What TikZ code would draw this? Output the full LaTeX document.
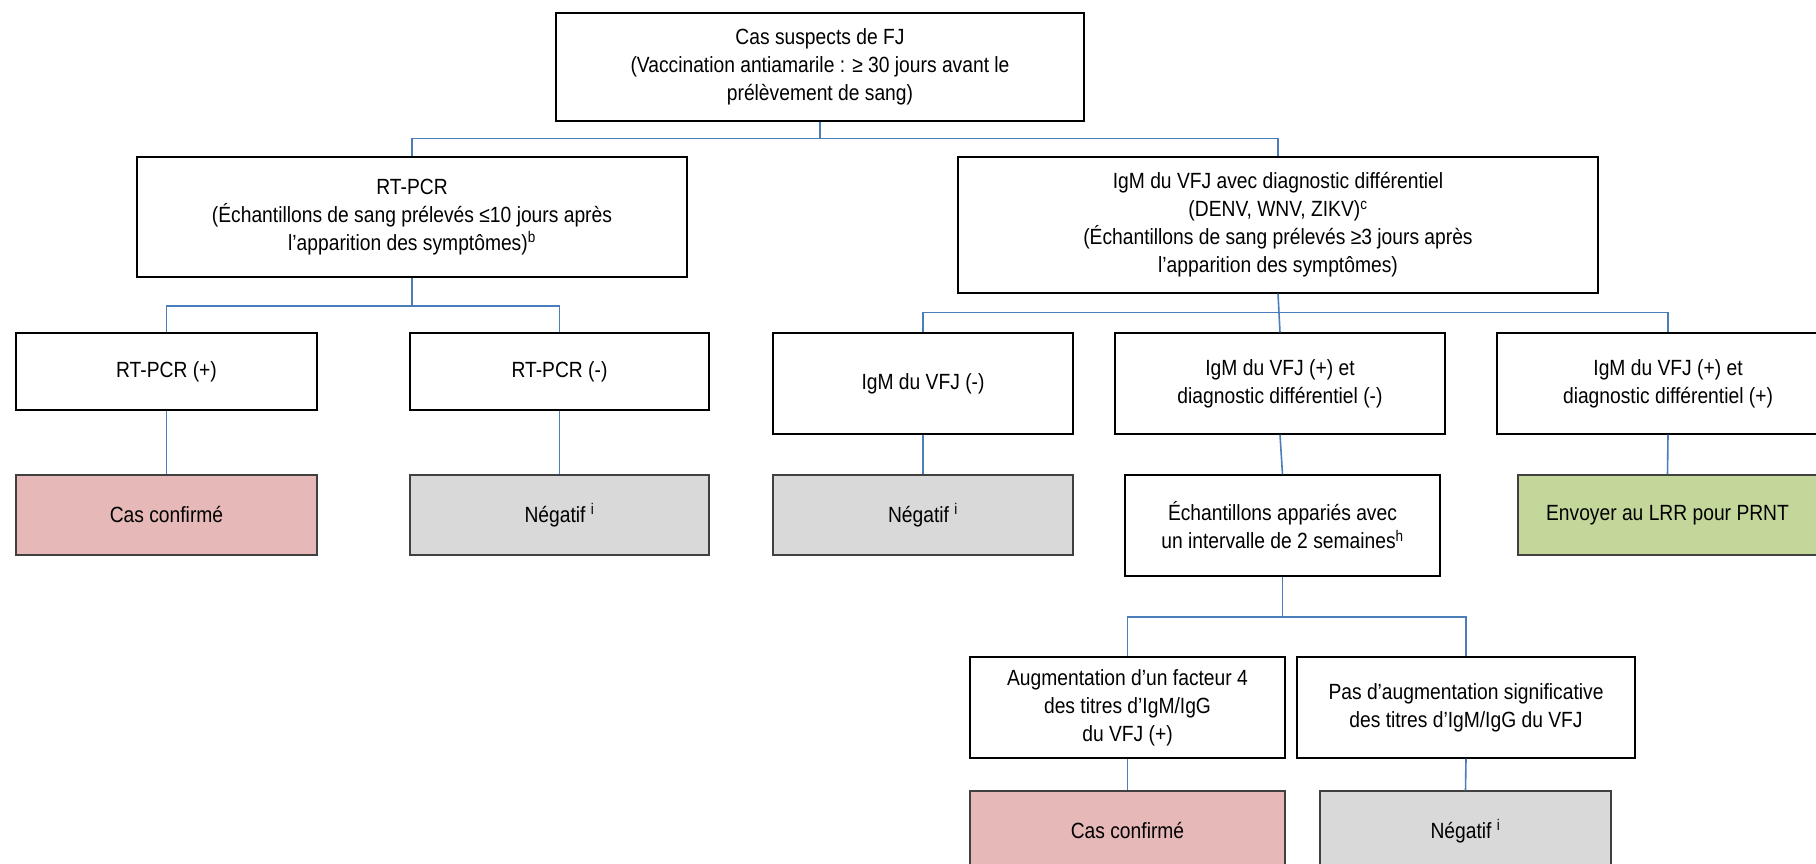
\documentclass[tikz,border=0pt]{standalone}
\usepackage{fontspec}
\setmainfont{Liberation Sans}[FakeStretch=0.875]
\definecolor{connblue}{HTML}{4A7EBB}
\definecolor{pinkfill}{HTML}{E6B8B7}
\definecolor{grayfill}{HTML}{D9D9D9}
\definecolor{greenfill}{HTML}{C4D79B}
\tikzset{
  box/.style={draw=black, line width=1.4pt, fill=white, rectangle, inner sep=0pt, align=center,
    font=\fontsize{22}{28}\selectfont},
  pinkbox/.style={box, draw=black!75, fill=pinkfill},
  graybox/.style={box, draw=black!75, fill=grayfill},
  greenbox/.style={box, draw=black!75, fill=greenfill},
  conn/.style={draw=connblue, line width=1.6pt},
}
\begin{document}
\begin{tikzpicture}[x=1pt,y=-1pt]
\useasboundingbox (0,0) rectangle (1816,864);
\clip (0,0) rectangle (1816,864);
\fill[white] (0,0) rectangle (1816,864);

\node[box, minimum width=528, minimum height=108] (top) at (820,67)
  {Cas suspects de FJ\\(Vaccination antiamarile : ≥ 30 jours avant le\\prélèvement de sang)};
\node[box, minimum width=550, minimum height=120] (rt) at (412,217)
  {RT-PCR\\(Échantillons de sang prélevés ≤10 jours après\\l’apparition des symptômes)\textsuperscript{b}};
\node[box, minimum width=640, minimum height=136] (igm) at (1278,225)
  {IgM du VFJ avec diagnostic différentiel\\(DENV, WNV, ZIKV)\textsuperscript{c}\\(Échantillons de sang prélevés ≥3 jours après\\l’apparition des symptômes)};

\node[box, minimum width=301, minimum height=77] (rtp) at (166.5,371.5) {RT-PCR (+)};
\node[box, minimum width=299, minimum height=77] (rtn) at (559.5,371.5) {RT-PCR (-)};
\node[box, minimum width=300, minimum height=101] (igmn) at (923,383.5) {IgM du VFJ (-)};
\node[box, minimum width=330, minimum height=101] (igmpn) at (1280,383.5) {IgM du VFJ (+) et\\diagnostic différentiel (-)};
\node[box, minimum width=342, minimum height=101] (igmpp) at (1668,383.5) {IgM du VFJ (+) et\\diagnostic différentiel (+)};

\node[pinkbox, minimum width=301, minimum height=80] (cc1) at (166.5,515) {Cas confirmé};
\node[graybox, minimum width=299, minimum height=80] (neg1) at (559.5,515) {Négatif \textsuperscript{i}};
\node[graybox, minimum width=300, minimum height=80] (neg2) at (923,515) {Négatif \textsuperscript{i}};
\node[box, minimum width=315, minimum height=101] (ech) at (1282.5,525.5) {Échantillons appariés avec\\un intervalle de 2 semaines\textsuperscript{h}};
\node[greenbox, minimum width=299, minimum height=80] (env) at (1667.5,515) {Envoyer au LRR pour PRNT};

\node[box, minimum width=315, minimum height=101] (aug) at (1127.5,707.5) {Augmentation d’un facteur 4\\des titres d’IgM/IgG\\du VFJ (+)};
\node[box, minimum width=338, minimum height=101] (pas) at (1466,707.5) {Pas d’augmentation significative\\des titres d’IgM/IgG du VFJ};

\node[pinkbox, minimum width=315, minimum height=80] (cc2) at (1127.5,831) {Cas confirmé};
\node[graybox, minimum width=291, minimum height=80] (neg3) at (1465.5,831) {Négatif \textsuperscript{i}};

% connectors
\draw[conn] (top.south) -- ++(0,17) -| (rt.north);
\draw[conn] (top.south) -- ++(0,17) -| (igm.north);
\draw[conn] (rt.south) -- ++(0,28) -| (rtp.north);
\draw[conn] (rt.south) -- ++(0,28) -| (rtn.north);
\draw[conn] (igmn.north) -- ++(0,-20) -| (igmpp.north);
\draw[conn] (igm.south) -- (igmpn.north);
\draw[conn] (rtp.south) -- (cc1.north);
\draw[conn] (rtn.south) -- (neg1.north);
\draw[conn] (igmn.south) -- (neg2.north);
\draw[conn] (igmpn.south) -- (ech.north);
\draw[conn] (igmpp.south) -- (env.north);
\draw[conn] (ech.south) -- ++(0,40) -| (aug.north);
\draw[conn] (ech.south) -- ++(0,40) -| (pas.north);
\draw[conn] (aug.south) -- (cc2.north);
\draw[conn] (pas.south) -- (neg3.north);
\end{tikzpicture}
\end{document}
